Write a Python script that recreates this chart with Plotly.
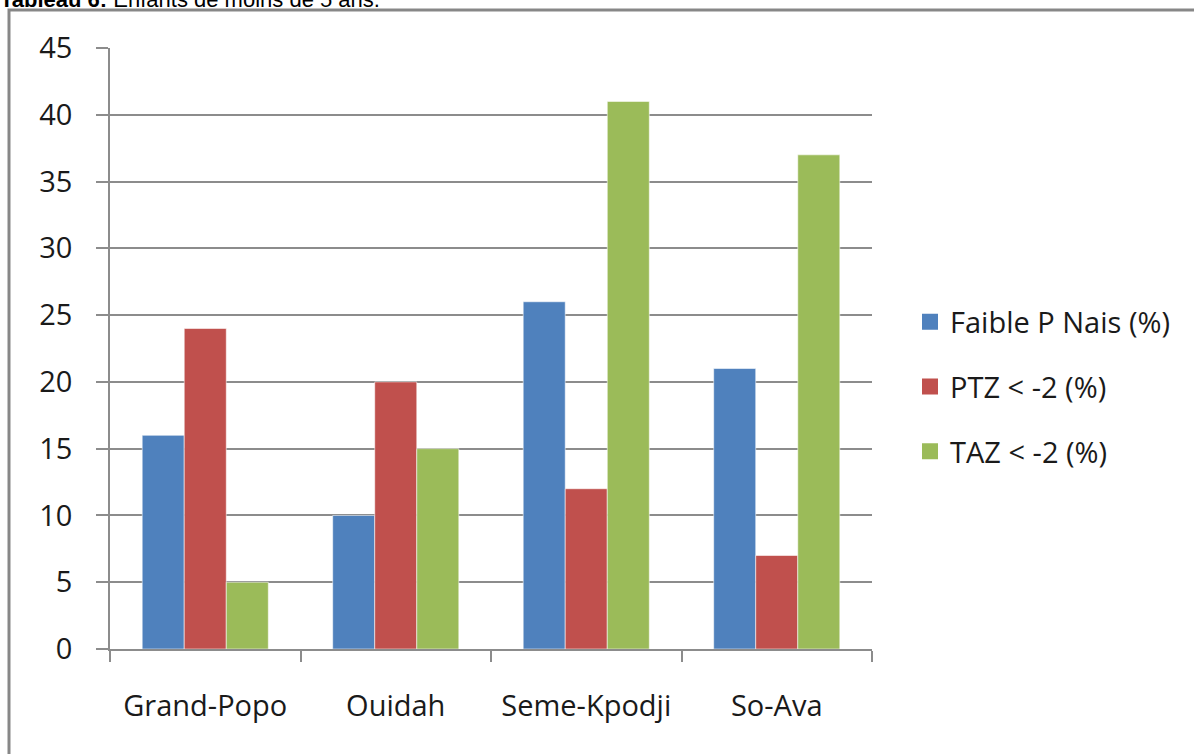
import plotly.graph_objects as go

categories = ["Grand-Popo", "Ouidah", "Seme-Kpodji", "So-Ava"]
faible_p_nais = [16, 10, 26, 21]
ptz = [24, 20, 12, 7]
taz = [5, 15, 41, 37]
series_names = ["Faible P Nais (%)", "PTZ < -2 (%)", "TAZ < -2 (%)"]
colors = ["#4F81BD", "#C0504D", "#9BBB59"]
y_ticks = [0, 5, 10, 15, 20, 25, 30, 35, 40, 45]

W, H = 1194, 754
ML, MR, MT, MB = 110, 322, 48, 105
PW, PH = W - ML - MR, H - MT - MB

def px_x(p):
    return (p - ML) / PW

def px_y(p):
    return (H - MB - p) / PH

fig = go.Figure()
for name, vals, col in zip(series_names, [faible_p_nais, ptz, taz], colors):
    fig.add_trace(go.Bar(
        x=categories, y=vals, name=name, showlegend=False,
        marker=dict(color=col, line=dict(color="rgba(255,255,255,0.55)", width=1)),
    ))
for i, (name, col) in enumerate(zip(series_names, colors)):
    fig.add_trace(go.Scatter(
        x=[None], y=[None], mode="markers", name=name, legendgroup=f"g{i}",
        marker=dict(symbol="square", size=25, color=col),
    ))

grey = "#8C8C8C"
txt = "#1a1a1a"
fig.update_layout(
    width=W, height=H,
    margin=dict(l=ML, r=MR, t=MT, b=MB),
    paper_bgcolor="white", plot_bgcolor="white",
    barmode="group", bargap=0.338, bargroupgap=0,
    font=dict(family="Open Sans", size=29, color=txt),
    legend=dict(
        x=px_x(910), y=px_y(387), xanchor="left", yanchor="middle",
        font=dict(family="Open Sans", size=29, color=txt),
        tracegroupgap=24, itemwidth=30, bgcolor="rgba(0,0,0,0)",
    ),
    xaxis=dict(
        categoryorder="array", categoryarray=categories,
        showline=True, linecolor=grey, linewidth=1.5,
        ticks="outside", ticklen=11, tickcolor=grey, tickwidth=1.5,
        tickson="boundaries", ticklabelstandoff=30,
        tickfont=dict(family="Open Sans", size=29, color=txt),
        showgrid=False, zeroline=False,
    ),
    yaxis=dict(
        range=[0, 45], tickvals=y_ticks,
        showline=True, linecolor=grey, linewidth=1.5,
        ticks="outside", ticklen=12, tickcolor=grey, tickwidth=1.5,
        ticklabelstandoff=18,
        showgrid=True, gridcolor=grey, gridwidth=1.5, zeroline=False,
        tickfont=dict(family="Open Sans", size=29, color=txt),
    ),
    shapes=[dict(
        type="rect", xref="paper", yref="paper",
        x0=px_x(9), x1=px_x(1400), y0=px_y(900), y1=px_y(10),
        line=dict(color="#878787", width=3), fillcolor="rgba(0,0,0,0)", layer="below",
    )],
    annotations=[dict(
        text="<b>Tableau 6:</b> Enfants de moins de 5 ans.",
        xref="paper", yref="paper", x=px_x(-2), y=px_y(14),
        xanchor="left", yanchor="bottom", showarrow=False,
        font=dict(family="Liberation Sans", size=22, color="black"),
    )],
)

fig.write_html("out.html", config={"displayModeBar": False},
               post_script="document.body.style.margin='0';")
